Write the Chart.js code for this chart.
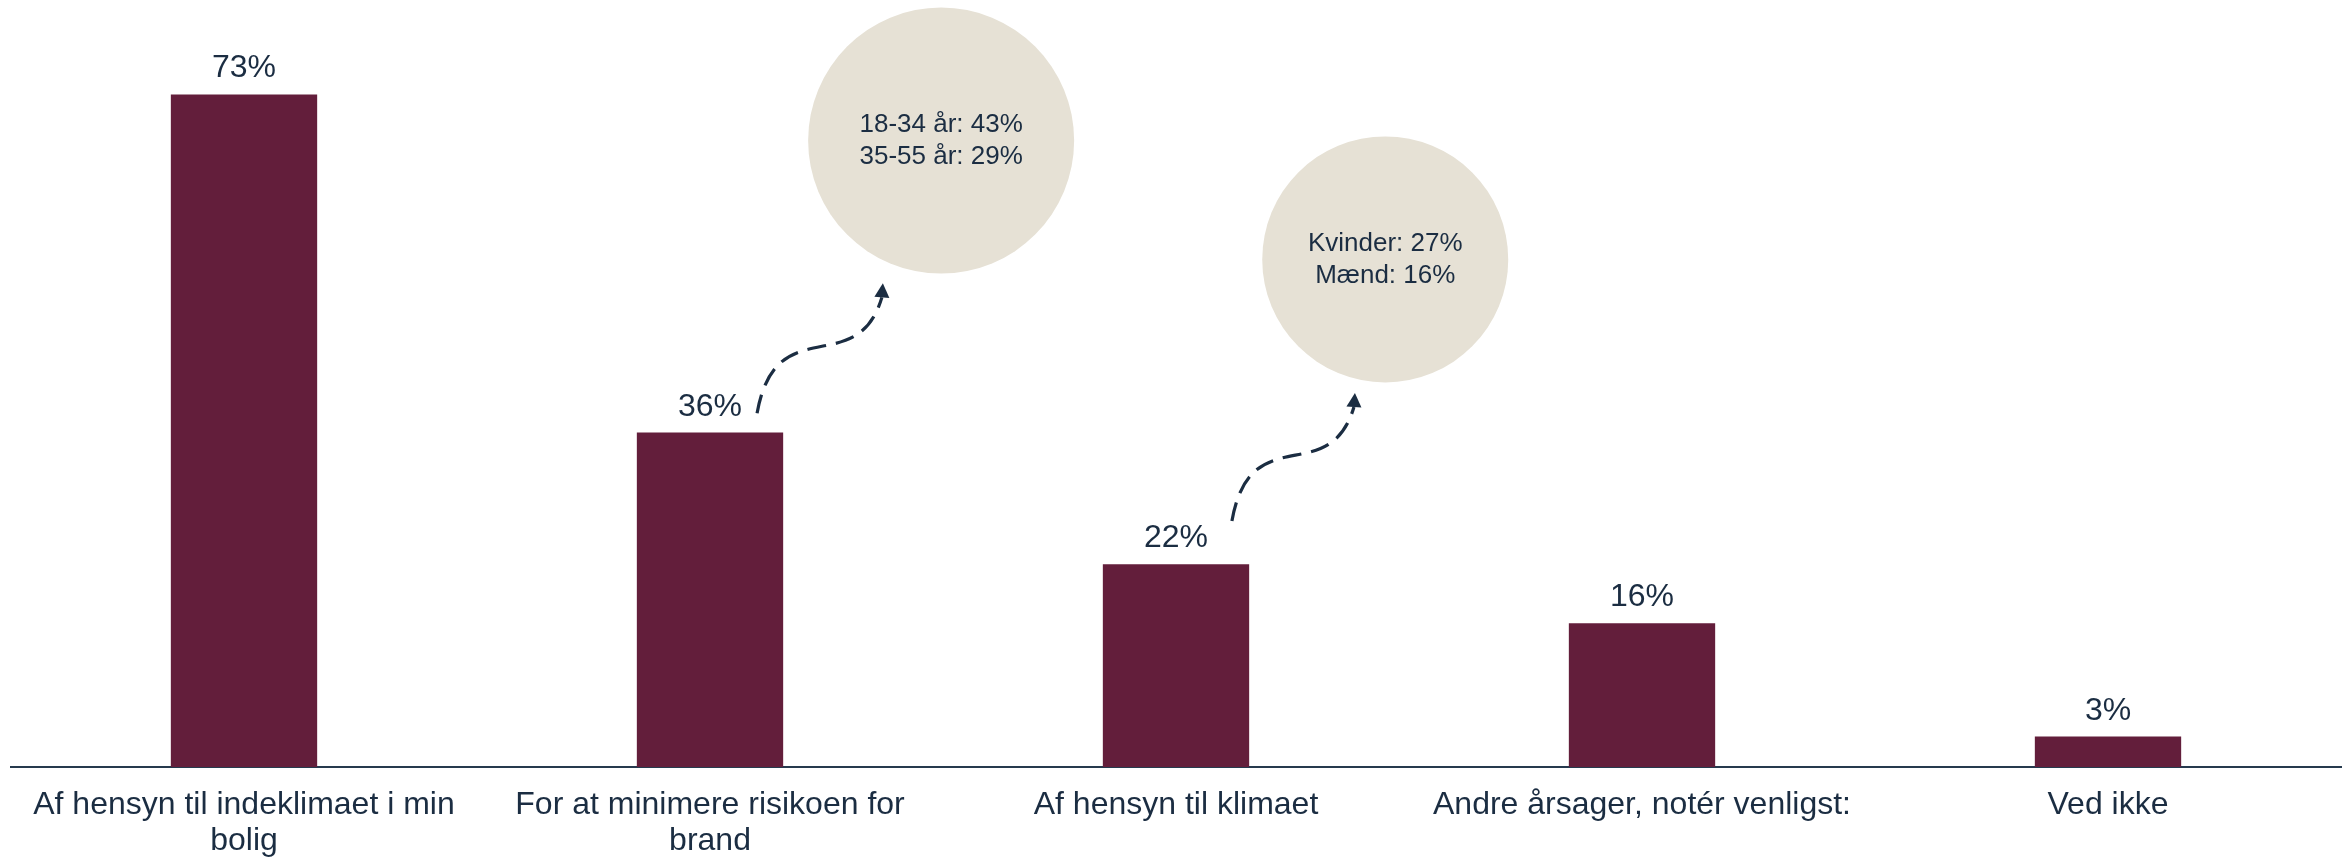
<!DOCTYPE html>
<html>
<head>
<meta charset="utf-8">
<script src="https://cdn.jsdelivr.net/npm/chart.js@4.4.1/dist/chart.umd.min.js"></script>
<style>
  html, body { margin: 0; padding: 0; background: #fff; }
  #wrap { position: relative; width: 2351px; height: 858px; }
</style>
</head>
<body>
<div id="wrap"><canvas id="reasonsChart"></canvas></div>
<script>
// --- data ---
const categories = [
  ['Af hensyn til indeklimaet i min', 'bolig'],
  ['For at minimere risikoen for', 'brand'],
  'Af hensyn til klimaet',
  'Andre årsager, notér venligst:',
  'Ved ikke'
];
const shares = [73, 36.3, 22, 15.6, 3.3];
const shareLabels = ['73%', '36%', '22%', '16%', '3%'];

// breakdown bubbles: which bar they point from, and their text
const breakdownBars = [1, 2];
const breakdownText = [
  ['18-34 år: 43%', '35-55 år: 29%'],
  ['Kvinder: 27%', 'Mænd: 16%']
];

const TEXT = '#1b2d42';
const BAR = '#631e3b';
const BUBBLE = '#e6e1d5';
const FONT = "'Liberation Sans', Arial, sans-serif";

// value labels above the bars
const valueLabels = {
  id: 'valueLabels',
  afterDatasetsDraw(chart) {
    const ctx = chart.ctx;
    const meta = chart.getDatasetMeta(0);
    ctx.save();
    ctx.font = `32px ${FONT}`;
    ctx.fillStyle = TEXT;
    ctx.textAlign = 'center';
    ctx.textBaseline = 'alphabetic';
    meta.data.forEach((bar, i) => {
      ctx.fillText(shareLabels[i], bar.x, bar.y - 17);
    });
    ctx.restore();
  }
};

// bubbles + dashed curved arrows, placed in scale units
const callouts = {
  id: 'callouts',
  afterDatasetsDraw(chart, args, opts) {
    const ctx = chart.ctx;
    const xs = chart.scales.x, ys = chart.scales.y;
    ctx.save();
    opts.items.forEach((item, k) => {
      const bar = breakdownBars[k];
      // bubble
      const cx = xs.getPixelForValue(bar + item.circle.dx);
      const cy = ys.getPixelForValue(item.circle.y);
      ctx.beginPath();
      ctx.arc(cx, cy, item.circle.r, 0, Math.PI * 2);
      ctx.fillStyle = BUBBLE;
      ctx.fill();
      ctx.font = `26px ${FONT}`;
      ctx.fillStyle = TEXT;
      ctx.textAlign = 'center';
      ctx.textBaseline = 'middle';
      const lines = breakdownText[k];
      lines.forEach((t, j) => {
        ctx.fillText(t, cx, cy + (j - (lines.length - 1) / 2) * 32);
      });

      // arrow
      const x0 = xs.getPixelForValue(bar + item.arrow.from[0]);
      const y0 = ys.getPixelForValue(item.arrow.from[1]);
      const tx = xs.getPixelForValue(bar + item.arrow.to[0]);
      const ty = ys.getPixelForValue(item.arrow.to[1]);
      const ex = tx - 1, ey = ty + 14;
      const dx = tx - x0, dy = ty - y0;
      ctx.beginPath();
      ctx.moveTo(x0, y0);
      ctx.bezierCurveTo(x0 + 0.15 * dx, y0 + 0.815 * dy, ex - 0.2 * dx, ey - 0.65 * dy, ex, ey);
      ctx.strokeStyle = TEXT;
      ctx.lineWidth = 3.2;
      ctx.setLineDash([19, 10]);
      ctx.stroke();
      ctx.setLineDash([]);
      // head
      const ang = Math.atan2(ty - ey, tx - ex);
      ctx.beginPath();
      ctx.moveTo(tx, ty);
      ctx.lineTo(ex + Math.cos(ang + Math.PI / 2) * 7.5, ey + Math.sin(ang + Math.PI / 2) * 7.5);
      ctx.lineTo(ex + Math.cos(ang - Math.PI / 2) * 7.5, ey + Math.sin(ang - Math.PI / 2) * 7.5);
      ctx.closePath();
      ctx.fillStyle = TEXT;
      ctx.fill();
    });
    ctx.restore();
  }
};

new Chart(document.getElementById('reasonsChart'), {
  type: 'bar',
  data: {
    labels: categories,
    datasets: [{
      data: shares,
      backgroundColor: BAR,
      borderWidth: 0,
      categoryPercentage: 1,
      barPercentage: 0.314
    }]
  },
  options: {
    responsive: true,
    maintainAspectRatio: false,
    animation: false,
    layout: { padding: { top: 30, left: 11, right: 10, bottom: -21 } },
    plugins: {
      legend: { display: false },
      tooltip: { enabled: false },
      callouts: {
        items: [
          { circle: { dx: 0.496, y: 68, r: 133 }, arrow: { from: [0.101, 38.4], to: [0.371, 52.5] } },
          { circle: { dx: 0.449, y: 55.1, r: 123 }, arrow: { from: [0.12, 26.7], to: [0.384, 40.6] } }
        ]
      }
    },
    scales: {
      x: {
        grid: { display: false, drawTicks: false },
        border: { display: true, color: '#263a4e', width: 2 },
        ticks: {
          color: TEXT,
          padding: 20,
          maxRotation: 0,
          autoSkip: false,
          font: { family: FONT, size: 32, lineHeight: 1.125 }
        }
      },
      y: {
        display: false,
        min: 0,
        max: 80
      }
    }
  },
  plugins: [valueLabels, callouts]
});
</script>
</body>
</html>
